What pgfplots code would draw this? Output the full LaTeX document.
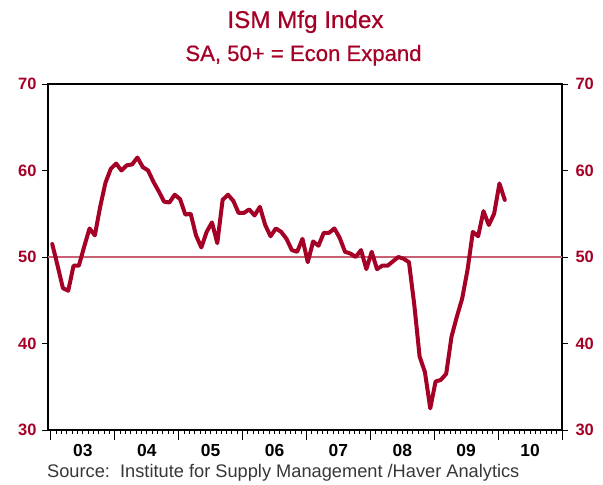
\documentclass[border=0pt]{standalone}
\usepackage{pgfplots}
\usepackage{pgfplotstable}
\pgfplotsset{compat=1.18}
\usepackage{fontspec}
\setmainfont{Liberation Sans}
\newfontfamily\titlefont[FakeBold=0.6]{Liberation Sans}
\definecolor{ismred}{RGB}{165,0,38}
\definecolor{refline}{RGB}{200,95,115}
\definecolor{srcgray}{RGB}{55,55,55}

% k = months since Jan 2003
\pgfplotstableread{
k v
0 51.5
1 49.0
2 46.4
3 46.1
4 49.0
5 49.0
6 51.2
7 53.3
8 52.5
9 55.8
10 58.6
11 60.2
12 60.8
13 60.0
14 60.6
15 60.7
16 61.5
17 60.4
18 60.0
19 58.7
20 57.6
21 56.4
22 56.3
23 57.2
24 56.7
25 54.9
26 55.0
27 52.5
28 51.1
29 52.9
30 54.0
31 51.6
32 56.6
33 57.2
34 56.5
35 55.1
36 55.1
37 55.5
38 54.8
39 55.8
40 53.7
41 52.4
42 53.3
43 52.9
44 52.1
45 50.8
46 50.6
47 52.1
48 49.4
49 51.8
50 51.3
51 52.8
52 52.8
53 53.3
54 52.2
55 50.6
56 50.4
57 50.0
58 50.8
59 48.6
60 50.6
61 48.6
62 49.0
63 49.0
64 49.5
65 50.0
66 49.8
67 49.4
68 44.5
69 38.5
70 36.7
71 32.5
72 35.6
73 35.8
74 36.5
75 40.8
76 43.1
77 45.2
78 48.5
79 52.9
80 52.4
81 55.3
82 53.7
83 55.0
84 58.5
85 56.6
}\ismdata

\begin{document}
\begin{tikzpicture}
\useasboundingbox (0,0) rectangle (603bp,485bp);
\node[text=ismred, font=\titlefont\fontsize{24.3}{26}\selectfont, anchor=base] at (305.5bp,457bp) {ISM Mfg Index};
\node[text=ismred, font=\titlefont\fontsize{22.2}{24}\selectfont, anchor=base] at (303.5bp,424bp) {SA, 50+ = Econ Expand};
\node[text=srcgray, font=\fontsize{18.3}{20}\selectfont, anchor=base west, inner sep=0pt] at (47bp,8bp) {Source:\ \ Institute for Supply Management /Haver Analytics};

% main axis: x ticks, data
\begin{axis}[
  at={(48bp,55bp)}, anchor=south west,
  width=514bp, height=346bp, scale only axis,
  xmin=-0.55, xmax=96, ymin=30, ymax=70,
  axis line style={black, line width=1.1pt},
  ytick=\empty,
  xtick={0,12,...,96},
  x tick label as interval,
  xticklabels={03,04,05,06,07,08,09,10},
  xtick pos=bottom,
  tick align=outside,
  major tick length=10.5bp,
  minor x tick num=11,
  minor tick length=4.5bp,
  every tick/.style={black, line width=0.9pt},
  xticklabel style={font=\fontsize{17.5}{19}\selectfont\bfseries, text=black, yshift=0bp},
  /pgf/number format/assume math mode=true,
  clip=true,
]
\addplot[refline, line width=1.3bp] coordinates {(-0.55,50) (96,50)};
\addplot[ismred, line width=4bp, line join=round, line cap=round] table[x expr=\thisrow{k}+0.25, y=v] {\ismdata};
\end{axis}

% left y labels and ticks
\begin{axis}[
  at={(48bp,55bp)}, anchor=south west,
  width=514bp, height=346bp, scale only axis,
  xmin=-0.55, xmax=96, ymin=30, ymax=70,
  axis line style={draw=none},
  xtick=\empty,
  ytick={30,40,50,60,70},
  ytick pos=both, yticklabel pos=left,
  tick align=outside,
  major tick length=6bp,
  every tick/.style={black, line width=0.9pt},
  yticklabel style={font=\fontsize{16.5}{18}\selectfont\bfseries, text=ismred, xshift=-2bp},
  /pgf/number format/assume math mode=true,
]
\end{axis}

% right y labels
\begin{axis}[
  at={(48bp,55bp)}, anchor=south west,
  width=514bp, height=346bp, scale only axis,
  xmin=-0.55, xmax=96, ymin=30, ymax=70,
  axis line style={draw=none},
  xtick=\empty,
  ytick={30,40,50,60,70},
  ytick pos=right, yticklabel pos=right,
  tick align=outside,
  major tick length=6bp,
  every tick/.style={black, line width=0.9pt},
  yticklabel style={font=\fontsize{16.5}{18}\selectfont\bfseries, text=ismred, xshift=4bp},
  /pgf/number format/assume math mode=true,
]
\end{axis}
\end{tikzpicture}
\end{document}
